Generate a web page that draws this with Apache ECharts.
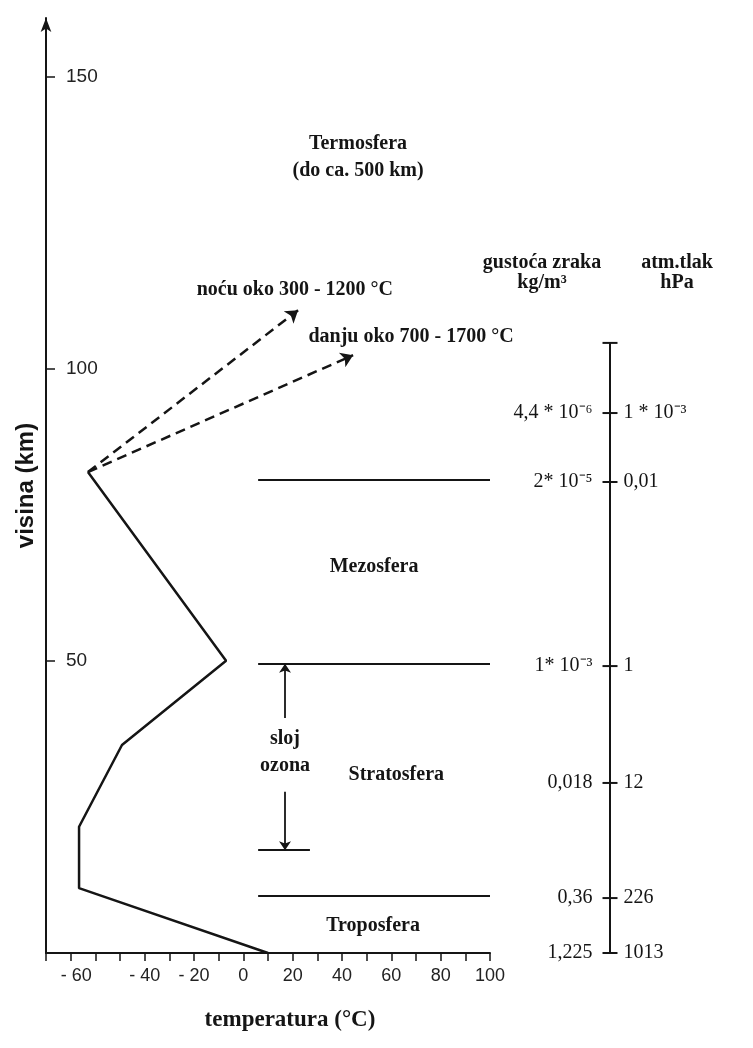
<!DOCTYPE html>
<html><head><meta charset="utf-8">
<script src="https://cdn.jsdelivr.net/npm/echarts@6/dist/echarts.min.js"></script>
<style>html,body{margin:0;padding:0;background:#fff}#c{width:753px;height:1048px}</style>
</head><body><div id="c"></div>
<script>
// ---- data ----
const profileHeights = [0, 11.1, 21.6, 35.6, 50.0, 82.3];
const profileTemps   = [10.0, -66.6, -66.6, -49.2, -7.0, -63.0];

const nightArrow = [-63.0, 82.3, 22.2, 110.0]; // temp0, h0, temp1, h1
const dayArrow   = [-63.0, 82.3, 44.5, 102.3];

const boundaryHeights = [9.75, 49.5, 80.9];
const boundaryFrom = 6;
const boundaryTo = 100;

const ozoneBottom = [17.6, 6, 27];     // height, temp from, temp to
const ozoneArrowTemp = 16.9;
const ozoneUp   = [40.2, 49.5];
const ozoneDown = [27.6, 17.6];

const scaleHeights   = [92.4, 80.6, 49.1, 29.1, 9.4, 0];
const scaleTop       = 104.4;
const densityLabels  = ['4,4 * 10\u207B\u2076', '2* 10\u207B\u2075', '1* 10\u207B\u00B3', '0,018', '0,36', '1,225'];
const pressureLabels = ['1 * 10\u207B\u00B3', '0,01', '1', '12', '226', '1013'];

const xTickLabels = [-60, -40, -20, 0, 20, 40, 60, 80, 100];
const yTickLabels = [50, 100, 150];

const layerNames   = ['Termosfera\n(do ca. 500 km)', 'Mezosfera', 'Stratosfera', 'Troposfera', 'sloj\nozona',
                      'noću oko 300 - 1200 °C', 'danju oko 700 - 1700 °C'];
const layerTemps   = [46.5, 53, 62, 52.6, 16.9, 20.9, 68];
const layerHeights = [136.2, 66, 30.5, 4.6, 34.4, 113.4, 105.4];

const headerNames = ['gustoća zraka\nkg/m³', 'atm.tlak\nhPa'];
const headerX = [-68, 67];
const headerHeights = [116.4, 116.4];

// ---- chart ----
const SERIF = 'Liberation Serif';
const SANS = 'Liberation Sans';
const INK = '#151515';
const HIDDEN = {color: 'rgba(0,0,0,0)', opacity: 1};
const chart = echarts.init(document.getElementById('c'), null, {renderer: 'canvas'});

const seg = (a) => ({coords: [[a[0], a[1]], [a[2], a[3]]]});

chart.setOption({
  animation: false,
  backgroundColor: '#ffffff',
  grid: [
    {left: 46, right: 263, top: 18, bottom: 95},
    {left: 560, width: 100, top: 18, bottom: 95}
  ],
  xAxis: [
    {
      gridIndex: 0, type: 'value', min: -80, max: 100, interval: 10,
      axisLine: {onZero: false, lineStyle: {color: INK, width: 2}},
      axisTick: {show: true, length: 8, lineStyle: {color: INK, width: 1.5}},
      splitLine: {show: false},
      axisLabel: {
        interval: 0, margin: 14, color: '#222', fontFamily: SANS, fontSize: 18,
        formatter: v => {
          if (xTickLabels.indexOf(v) < 0) return '';
          if (v === -60) return '{l|- 60}';
          return v < 0 ? '- ' + Math.abs(v) : String(v);
        },
        rich: {l: {fontFamily: SANS, fontSize: 18, color: '#222', padding: [0, 38, 0, 0]}}
      },
      name: 'temperatura (°C)', nameLocation: 'middle', nameGap: 56,
      nameTextStyle: {fontFamily: SERIF, fontWeight: 'bold', fontSize: 23, color: INK, padding: [0, 0, 0, 44]}
    },
    {gridIndex: 1, type: 'value', min: -50, max: 50, show: false}
  ],
  yAxis: [
    {
      gridIndex: 0, type: 'value', min: 0, max: 160, interval: 50,
      axisLine: {show: true, onZero: false, lineStyle: {color: INK, width: 2}, symbol: ['none', 'arrow'], symbolSize: [8, 14]},
      axisTick: {show: true, inside: true, length: 9, customValues: yTickLabels, lineStyle: {color: INK, width: 1.5}},
      axisLabel: {inside: true, margin: 20, customValues: yTickLabels, color: '#222', fontFamily: SANS, fontSize: 19,
                  formatter: v => yTickLabels.indexOf(v) >= 0 ? String(v) : ''},
      splitLine: {show: false},
      name: 'visina (km)', nameLocation: 'middle', nameRotate: 90, nameGap: 8,
      nameTextStyle: {fontFamily: SANS, fontWeight: 'bold', fontSize: 24, color: INK}
    },
    {gridIndex: 1, type: 'value', min: 0, max: 160, show: false}
  ],
  series: [
    {
      type: 'line', xAxisIndex: 0, yAxisIndex: 0, symbol: 'none',
      lineStyle: {color: INK, width: 2.5},
      data: profileTemps.map((t, i) => [t, profileHeights[i]])
    },
    {
      type: 'lines', coordinateSystem: 'cartesian2d', xAxisIndex: 0, yAxisIndex: 0,
      symbol: ['none', 'arrow'], symbolSize: 12,
      lineStyle: {color: INK, width: 2.5, type: [10, 6], opacity: 1},
      data: [seg(nightArrow), seg(dayArrow)]
    },
    {
      type: 'lines', coordinateSystem: 'cartesian2d', xAxisIndex: 0, yAxisIndex: 0,
      symbol: ['none', 'none'],
      lineStyle: {color: INK, width: 2.2, opacity: 1},
      data: boundaryHeights.map(h => ({coords: [[boundaryFrom, h], [boundaryTo, h]]}))
        .concat([{coords: [[ozoneBottom[1], ozoneBottom[0]], [ozoneBottom[2], ozoneBottom[0]]]}])
    },
    {
      type: 'lines', coordinateSystem: 'cartesian2d', xAxisIndex: 0, yAxisIndex: 0,
      symbol: ['none', 'arrow'], symbolSize: 9,
      lineStyle: {color: INK, width: 1.8, opacity: 1},
      data: [
        {coords: [[ozoneArrowTemp, ozoneUp[0]], [ozoneArrowTemp, ozoneUp[1]]]},
        {coords: [[ozoneArrowTemp, ozoneDown[0]], [ozoneArrowTemp, ozoneDown[1]]]}
      ]
    },
    {
      type: 'scatter', xAxisIndex: 0, yAxisIndex: 0, clip: false, symbolSize: 1,
      itemStyle: HIDDEN,
      label: {show: true, position: 'inside', formatter: p => layerNames[p.dataIndex],
              fontFamily: SERIF, fontWeight: 'bold', fontSize: 20, color: INK, lineHeight: 27, align: 'center'},
      data: layerTemps.map((t, i) => [t, layerHeights[i]])
    },
    // right scale
    {
      type: 'line', xAxisIndex: 1, yAxisIndex: 1, symbol: 'none',
      lineStyle: {color: INK, width: 2},
      data: [[0, 0], [0, scaleTop]]
    },
    {
      type: 'scatter', xAxisIndex: 1, yAxisIndex: 1, clip: false,
      symbol: 'rect', symbolSize: [15, 2], itemStyle: {color: INK, opacity: 1},
      label: {show: true, position: 'left', distance: 10, formatter: p => densityLabels[p.dataIndex] || '',
              fontFamily: SERIF, fontSize: 20, color: INK},
      data: scaleHeights.concat([scaleTop]).map(h => [0, h])
    },
    {
      type: 'scatter', xAxisIndex: 1, yAxisIndex: 1, clip: false,
      symbolSize: 15, itemStyle: HIDDEN,
      label: {show: true, position: 'right', distance: 6, formatter: p => pressureLabels[p.dataIndex],
              fontFamily: SERIF, fontSize: 20, color: INK},
      data: scaleHeights.map(h => [0, h])
    },
    {
      type: 'scatter', xAxisIndex: 1, yAxisIndex: 1, clip: false, symbolSize: 1,
      itemStyle: HIDDEN,
      label: {show: true, position: 'inside', formatter: p => headerNames[p.dataIndex],
              fontFamily: SERIF, fontWeight: 'bold', fontSize: 20, color: INK, lineHeight: 20, align: 'center'},
      data: headerX.map((x, i) => [x, headerHeights[i]])
    }
  ]
});
</script>
</body></html>
